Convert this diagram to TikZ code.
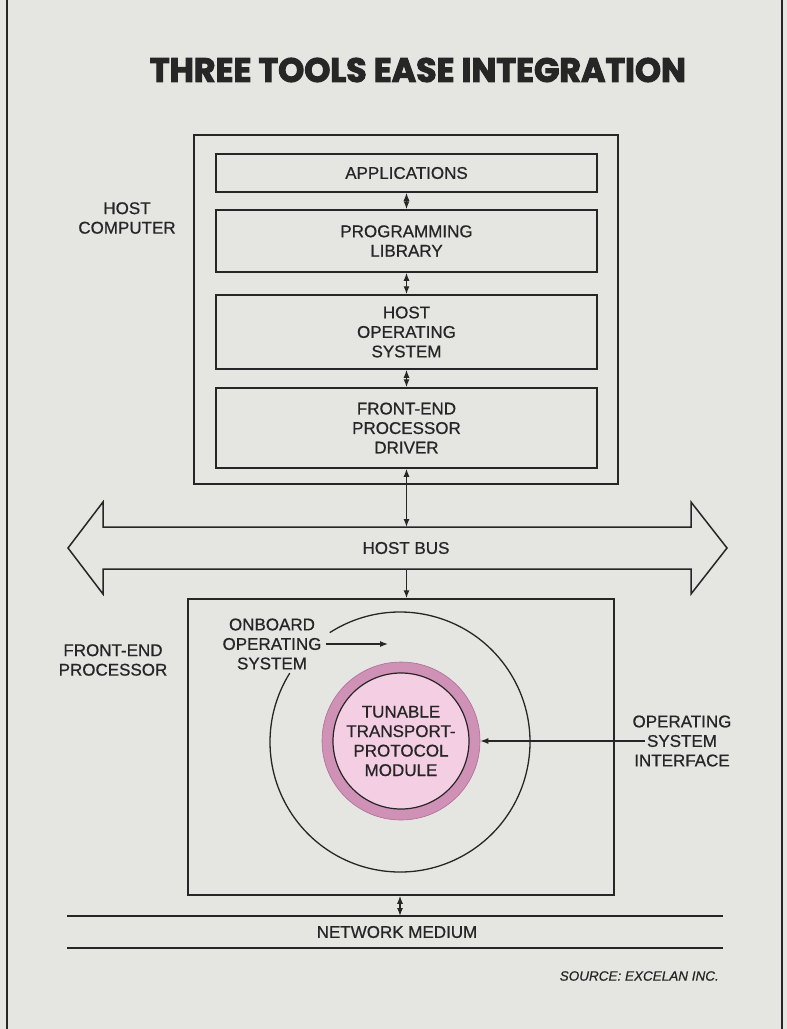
\documentclass[tikz,border=0pt]{standalone}
\usepackage{fontspec}
\usepackage{graphicx}
\setmainfont{Liberation Sans}[FakeBold=0.7]
\newfontfamily\titlefont{Poppins}[BoldFeatures={FakeBold=3}]
\usetikzlibrary{arrows.meta}
\definecolor{paper}{RGB}{229,229,226}
\definecolor{ink}{RGB}{38,38,38}
\definecolor{pinkout}{RGB}{207,145,182}
\definecolor{pinkedge}{RGB}{175,110,150}
\definecolor{pinkin}{RGB}{244,207,228}
\begin{document}
\begin{tikzpicture}[x=1pt,y=-1pt,
  line join=miter,
  lbl/.style={font=\fontsize{17}{19.5}\selectfont, align=center, text=ink, inner sep=0pt},
  layer/.style={draw=ink, line width=1.5pt, minimum width=381pt, inner sep=0pt, lbl},
  frame/.style={draw=ink, line width=1.5pt, inner sep=0pt},
  conn/.style={draw=ink, line width=1.3pt, {Latex[length=8pt,width=6pt]}-{Latex[length=8pt,width=6pt]}},
  conn1/.style={draw=ink, line width=1.3pt, -{Latex[length=8pt,width=6pt]}},
  rule/.style={draw=ink, line width=1.5pt}]
\useasboundingbox (0,0) rectangle (787,1029);
\fill[paper] (0,0) rectangle (787,1029);
\draw[ink, line width=1.6pt] (7,0) -- (7,1029);
\draw[ink, line width=1.6pt] (782,0) -- (782,1029);

% title
\node[text=ink, inner sep=0pt] (title) at (418,70)
  {\resizebox{536pt}{24pt}{\titlefont\bfseries THREE TOOLS EASE INTEGRATION}};

% host computer
\node[lbl] (hclbl) at (127,218) {HOST\\COMPUTER};
\node[frame, minimum width=424pt, minimum height=349pt] (host) at (406,309.5) {};
\node[layer, minimum height=38pt] (app) at (406.5,173) {APPLICATIONS};
\node[layer, minimum height=62pt] (lib) at (406.5,241) {PROGRAMMING\\LIBRARY};
\node[layer, minimum height=74pt] (hos) at (406.5,332) {HOST\\OPERATING\\SYSTEM};
\node[layer, minimum height=80pt] (drv) at (406.5,428) {FRONT-END\\PROCESSOR\\DRIVER};
\draw[conn] (app.south) -- (lib.north);
\draw[conn] (lib.south) -- (hos.north);
\draw[conn] (hos.south) -- (drv.north);

% host bus
\draw[rule] (68,548) -- (103,502) -- (103,527) -- (691,527) -- (691,502) -- (727,548)
  -- (691,594) -- (691,569) -- (103,569) -- (103,594) -- cycle;
\node[lbl] (bus) at (406,548) {HOST BUS};
\coordinate (busT) at (406.5,527);
\coordinate (busB) at (406.5,569);
\draw[conn] (drv.south) -- (busT);

% front-end processor
\node[lbl] (felbl) at (113,660) {FRONT-END\\PROCESSOR};
\node[frame, minimum width=426pt, minimum height=296pt] (fep) at (401,747) {};
\draw[conn1] (busB) -- (busB |- fep.north);

\node[circle, inner sep=0pt, minimum size=260pt] (obos) at (400,742) {};
\draw[ink, line width=1.3pt] ([shift={(-122.7:130)}]obos.center)
  arc[start angle=-122.7, end angle=212, radius=130];
\node[circle, fill=pinkout, draw=pinkedge, line width=0.6pt, minimum size=158pt, inner sep=0pt] (ring) at (401,741) {};
\node[circle, draw=ink, line width=1.2pt, fill=pinkin, minimum size=136pt, lbl] (ttpm) at (401,741)
  {TUNABLE\\TRANSPORT-\\PROTOCOL\\MODULE};

\node[lbl] (oblbl) at (272,644) {ONBOARD\\OPERATING\\SYSTEM};
\coordinate (obtip) at (388,644);
\draw[conn1] ([xshift=4pt]oblbl.east) -- (obtip);

\node[lbl] (osi) at (682,741) {OPERATING\\SYSTEM\\INTERFACE};
\coordinate (osiS) at (645,741);
\draw[conn1] (osiS) -- (ring.east);

% network medium
\coordinate (nwA) at (67,916);
\coordinate (nwB) at (723,916);
\coordinate (nwC) at (67,948);
\coordinate (nwD) at (723,948);
\draw[rule] (nwA) -- (nwB);
\draw[rule] (nwC) -- (nwD);
\node[lbl] (net) at (397,932) {NETWORK MEDIUM};
\coordinate (netT) at (400,916);
\draw[conn] (netT |- fep.south) -- (netT);

\node[anchor=east, inner sep=0pt, text=ink, font=\fontsize{13.5}{16}\selectfont\itshape] (src) at (719,976) {SOURCE: EXCELAN INC.};
\end{tikzpicture}
\end{document}
